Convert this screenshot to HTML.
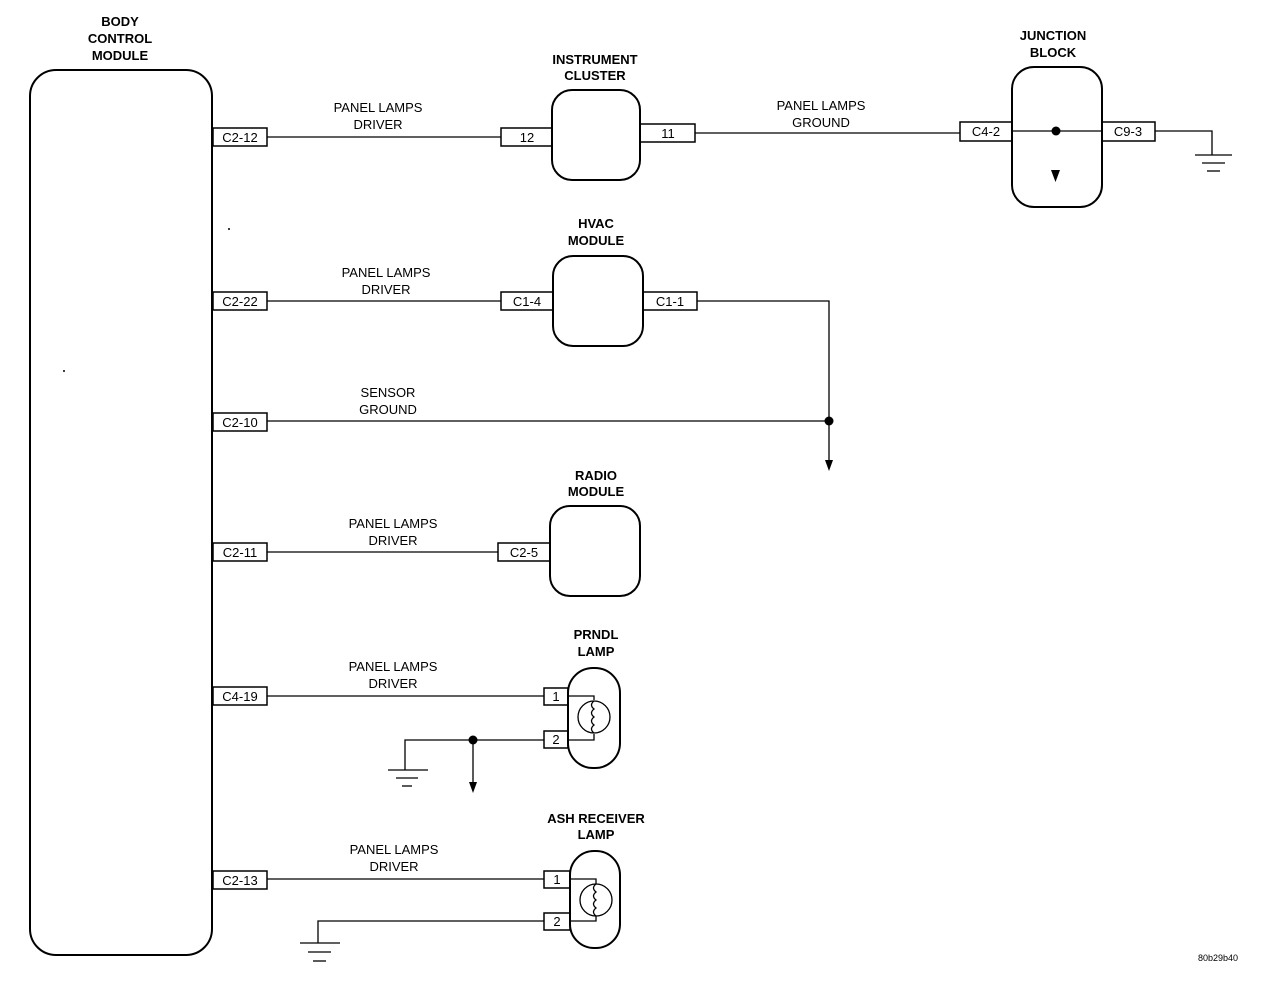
<!DOCTYPE html>
<html><head><meta charset="utf-8"><style>
html,body{margin:0;padding:0;background:#fff;}
svg{display:block;}
text{font-family:"Liberation Sans",Arial,sans-serif;font-size:13px;fill:#000;text-anchor:middle;}
.b{font-weight:bold;}
.s{font-size:13px;}
</style></head><body>
<svg width="1280" height="994" viewBox="0 0 1280 994" xmlns="http://www.w3.org/2000/svg">
<g fill="none" stroke="#000" stroke-width="2">
<!-- BCM -->
<rect x="30" y="70" width="182" height="885" rx="26"/>
<!-- BCM pins -->
<rect x="213" y="128" width="54" height="18" stroke-width="1.5"/>
<rect x="213" y="292" width="54" height="18" stroke-width="1.5"/>
<rect x="213" y="413" width="54" height="18" stroke-width="1.5"/>
<rect x="213" y="543" width="54" height="18" stroke-width="1.5"/>
<rect x="213" y="687" width="54" height="18" stroke-width="1.5"/>
<rect x="213" y="871" width="54" height="18" stroke-width="1.5"/>
<!-- Instrument cluster -->
<rect x="552" y="90" width="88" height="90" rx="20"/>
<rect x="501" y="128" width="51" height="18" stroke-width="1.5"/>
<rect x="640" y="124" width="55" height="18" stroke-width="1.5"/>
<!-- Junction block -->
<rect x="1012" y="67" width="90" height="140" rx="22"/>
<rect x="960" y="122" width="52" height="19" stroke-width="1.5"/>
<rect x="1102" y="122" width="53" height="19" stroke-width="1.5"/>
<!-- HVAC -->
<rect x="553" y="256" width="90" height="90" rx="20"/>
<rect x="501" y="292" width="52" height="18" stroke-width="1.5"/>
<rect x="643" y="292" width="54" height="18" stroke-width="1.5"/>
<!-- Radio -->
<rect x="550" y="506" width="90" height="90" rx="20"/>
<rect x="498" y="543" width="52" height="18" stroke-width="1.5"/>
<!-- PRNDL -->
<rect x="568" y="668" width="52" height="100" rx="25"/>
<rect x="544" y="688" width="24" height="17" stroke-width="1.5"/>
<rect x="544" y="731" width="24" height="17" stroke-width="1.5"/>
<!-- Ash -->
<rect x="570" y="851" width="50" height="97" rx="24"/>
<rect x="544" y="871" width="26" height="17" stroke-width="1.5"/>
<rect x="544" y="913" width="26" height="17" stroke-width="1.5"/>
</g>
<g fill="none" stroke="#000" stroke-width="1.3">
<!-- wires -->
<line x1="267" y1="137" x2="501" y2="137"/>
<line x1="695" y1="133" x2="960" y2="133"/>
<line x1="1012" y1="131" x2="1102" y2="131"/>
<polyline points="1155,131 1212,131 1212,155"/>
<line x1="1195" y1="155" x2="1232" y2="155"/>
<line x1="1202" y1="163" x2="1225" y2="163"/>
<line x1="1207" y1="171" x2="1220" y2="171"/>
<line x1="267" y1="301" x2="501" y2="301"/>
<polyline points="697,301 829,301 829,462"/>
<line x1="267" y1="421" x2="829" y2="421"/>
<line x1="267" y1="552" x2="498" y2="552"/>
<line x1="267" y1="696" x2="544" y2="696"/>
<polyline points="544,740 405,740 405,770"/>
<line x1="473" y1="740" x2="473" y2="784"/>
<line x1="388" y1="770" x2="428" y2="770"/>
<line x1="396" y1="778" x2="418" y2="778"/>
<line x1="402" y1="786" x2="412" y2="786"/>
<line x1="267" y1="879" x2="544" y2="879"/>
<polyline points="544,921 318,921 318,943"/>
<line x1="300" y1="943" x2="340" y2="943"/>
<line x1="308" y1="952" x2="331" y2="952"/>
<line x1="313" y1="961" x2="326" y2="961"/>
<!-- lamp internals -->
<polyline points="568,696 594,696 594,700"/>
<polyline points="568,740 594,740 594,734"/>
<circle cx="594" cy="717" r="16"/>
<path d="M594 701 q-5 4 0 8 q-5 4 0 8 q-5 4 0 8 q-5 4 0 8"/>
<polyline points="570,879 596,879 596,884"/>
<polyline points="570,921 596,921 596,916"/>
<circle cx="596" cy="900" r="16"/>
<path d="M596 884 q-5 4 0 8 q-5 4 0 8 q-5 4 0 8 q-5 4 0 8"/>
</g>
<g fill="#000">
<circle cx="1056" cy="131" r="4.5"/>
<polygon points="1051,170 1060,170 1055.5,182"/>
<circle cx="829" cy="421" r="4.5"/>
<polygon points="825,460 833,460 829,471"/>
<circle cx="473" cy="740" r="4.5"/>
<polygon points="469,782 477,782 473,793"/>
<circle cx="229" cy="229" r="1"/>
<circle cx="64" cy="371" r="1"/>
</g>
<!-- titles -->
<g class="b">
<text x="120" y="26" class="b">BODY</text>
<text x="120" y="43" class="b">CONTROL</text>
<text x="120" y="60" class="b">MODULE</text>
<text x="595" y="64" class="b">INSTRUMENT</text>
<text x="595" y="80" class="b">CLUSTER</text>
<text x="1053" y="40" class="b">JUNCTION</text>
<text x="1053" y="57" class="b">BLOCK</text>
<text x="596" y="228" class="b">HVAC</text>
<text x="596" y="245" class="b">MODULE</text>
<text x="596" y="480" class="b">RADIO</text>
<text x="596" y="496" class="b">MODULE</text>
<text x="596" y="639" class="b">PRNDL</text>
<text x="596" y="656" class="b">LAMP</text>
<text x="596" y="823" class="b">ASH RECEIVER</text>
<text x="596" y="839" class="b">LAMP</text>
</g>
<!-- wire labels -->
<text x="378" y="112">PANEL LAMPS</text><text x="378" y="129">DRIVER</text>
<text x="821" y="110">PANEL LAMPS</text><text x="821" y="127">GROUND</text>
<text x="386" y="277">PANEL LAMPS</text><text x="386" y="294">DRIVER</text>
<text x="388" y="397">SENSOR</text><text x="388" y="414">GROUND</text>
<text x="393" y="528">PANEL LAMPS</text><text x="393" y="545">DRIVER</text>
<text x="393" y="671">PANEL LAMPS</text><text x="393" y="688">DRIVER</text>
<text x="394" y="854">PANEL LAMPS</text><text x="394" y="871">DRIVER</text>
<!-- pin labels -->
<text x="240" y="142">C2-12</text>
<text x="240" y="306">C2-22</text>
<text x="240" y="427">C2-10</text>
<text x="240" y="557">C2-11</text>
<text x="240" y="701">C4-19</text>
<text x="240" y="885">C2-13</text>
<text x="527" y="142">12</text>
<text x="668" y="138">11</text>
<text x="986" y="136">C4-2</text>
<text x="1128" y="136">C9-3</text>
<text x="527" y="306">C1-4</text>
<text x="670" y="306">C1-1</text>
<text x="524" y="557">C2-5</text>
<text x="556" y="701">1</text>
<text x="556" y="744">2</text>
<text x="557" y="884">1</text>
<text x="557" y="926">2</text>
<text x="1218" y="961" style="font-size:9px">80b29b40</text>
</svg>
</body></html>
